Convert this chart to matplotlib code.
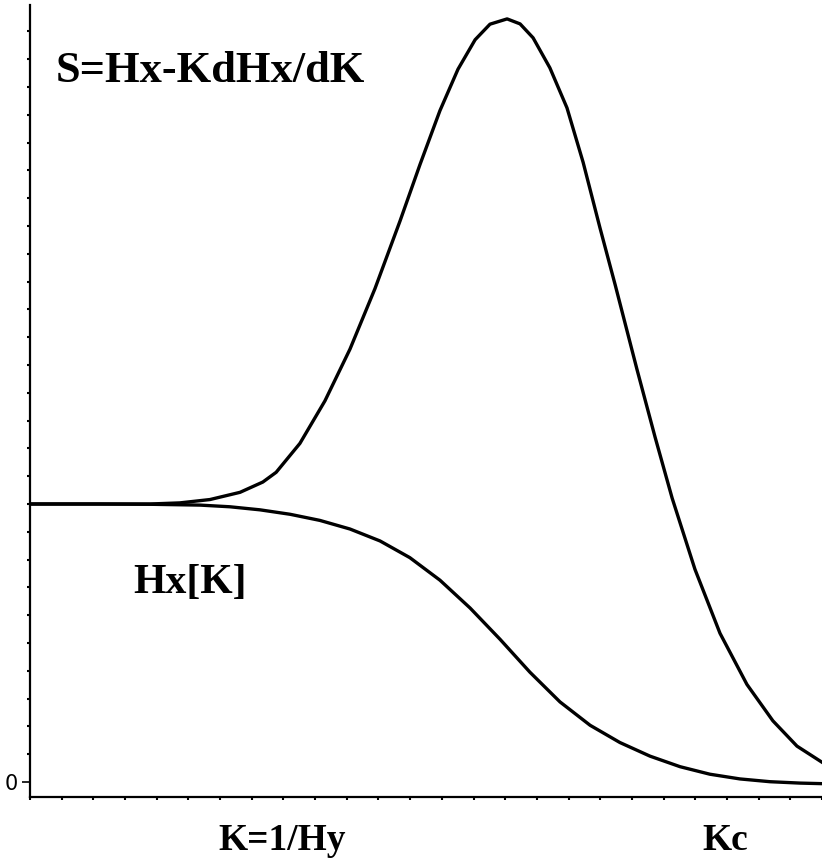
import matplotlib
matplotlib.use('Agg')
import matplotlib.pyplot as plt
from matplotlib.ticker import MultipleLocator, FixedLocator

# values (K axis 0..2.5, Hx plateau = 1)
k_hx = [0.000, 0.221, 0.379, 0.537, 0.631, 0.726, 0.821, 0.915, 1.010, 1.105,
        1.199, 1.294, 1.389, 1.484, 1.578, 1.673, 1.768, 1.862, 1.957, 2.052,
        2.146, 2.241, 2.336, 2.431, 2.500]
hx = [1.000, 1.000, 0.999, 0.996, 0.990, 0.979, 0.963, 0.941, 0.910, 0.867,
      0.807, 0.726, 0.626, 0.513, 0.395, 0.288, 0.204, 0.142, 0.093, 0.055,
      0.028, 0.011, 0.001, -0.004, -0.006]

k_s = [0.000, 0.379, 0.473, 0.568, 0.663, 0.735, 0.777, 0.852, 0.931, 1.010,
       1.089, 1.168, 1.231, 1.294, 1.351, 1.405, 1.452, 1.506, 1.547, 1.588,
       1.641, 1.695, 1.746, 1.799, 1.847, 1.916, 1.973, 2.027, 2.099, 2.178,
       2.263, 2.345, 2.421, 2.500]
s = [1.000, 1.000, 1.004, 1.016, 1.042, 1.079, 1.114, 1.218, 1.371, 1.557,
     1.775, 2.018, 2.221, 2.415, 2.564, 2.670, 2.726, 2.745, 2.727, 2.677,
     2.569, 2.425, 2.229, 1.994, 1.789, 1.484, 1.241, 1.021, 0.765, 0.535,
     0.351, 0.220, 0.129, 0.071]

y_ticks = [0]
y_labels = ['0']

W, H = 822, 866
fig = plt.figure(figsize=(W / 100, H / 100), dpi=100)
ax = fig.add_axes([30 / W, 69 / H, 1 - 30 / W, (861 - 69) / H])

ax.plot(k_hx, hx, color='black', lw=2.4, solid_joinstyle='round')
ax.plot(k_s, s, color='black', lw=2.4, solid_joinstyle='round')

ax.set_xlim(0, 2.5)
ax.set_ylim(-0.054, 2.795)

for side in ['top', 'right']:
    ax.spines[side].set_visible(False)
for side in ['left', 'bottom']:
    ax.spines[side].set_linewidth(1.6)

ax.xaxis.set_major_locator(FixedLocator([]))
ax.xaxis.set_minor_locator(MultipleLocator(0.1))
ax.yaxis.set_major_locator(FixedLocator(y_ticks))
ax.set_yticklabels(y_labels)
ax.yaxis.set_minor_locator(MultipleLocator(0.1))
ax.tick_params(axis='x', which='minor', direction='out', length=2.5, width=1.5)
ax.tick_params(axis='y', which='minor', direction='out', length=2.0, width=1.5)
ax.tick_params(axis='y', which='major', direction='out', length=6, width=1.2,
               labelsize=15, pad=3)

serif = ['Liberation Serif', 'DejaVu Serif']
fig.text(56 / W, 1 - 82 / H, 'S=Hx-KdHx/dK', family=serif, weight='bold',
         fontsize=32, ha='left', va='baseline')
fig.text(133 / W, 1 - 593 / H, 'Hx[K]', family=serif, weight='bold',
         fontsize=30, ha='left', va='baseline')
fig.text(218 / W, 1 - 850 / H, 'K=1/Hy', family=serif, weight='bold',
         fontsize=27, ha='left', va='baseline')
fig.text(702 / W, 1 - 850 / H, 'Kc', family=serif, weight='bold',
         fontsize=27, ha='left', va='baseline')

fig.savefig('out.png', dpi=100)
